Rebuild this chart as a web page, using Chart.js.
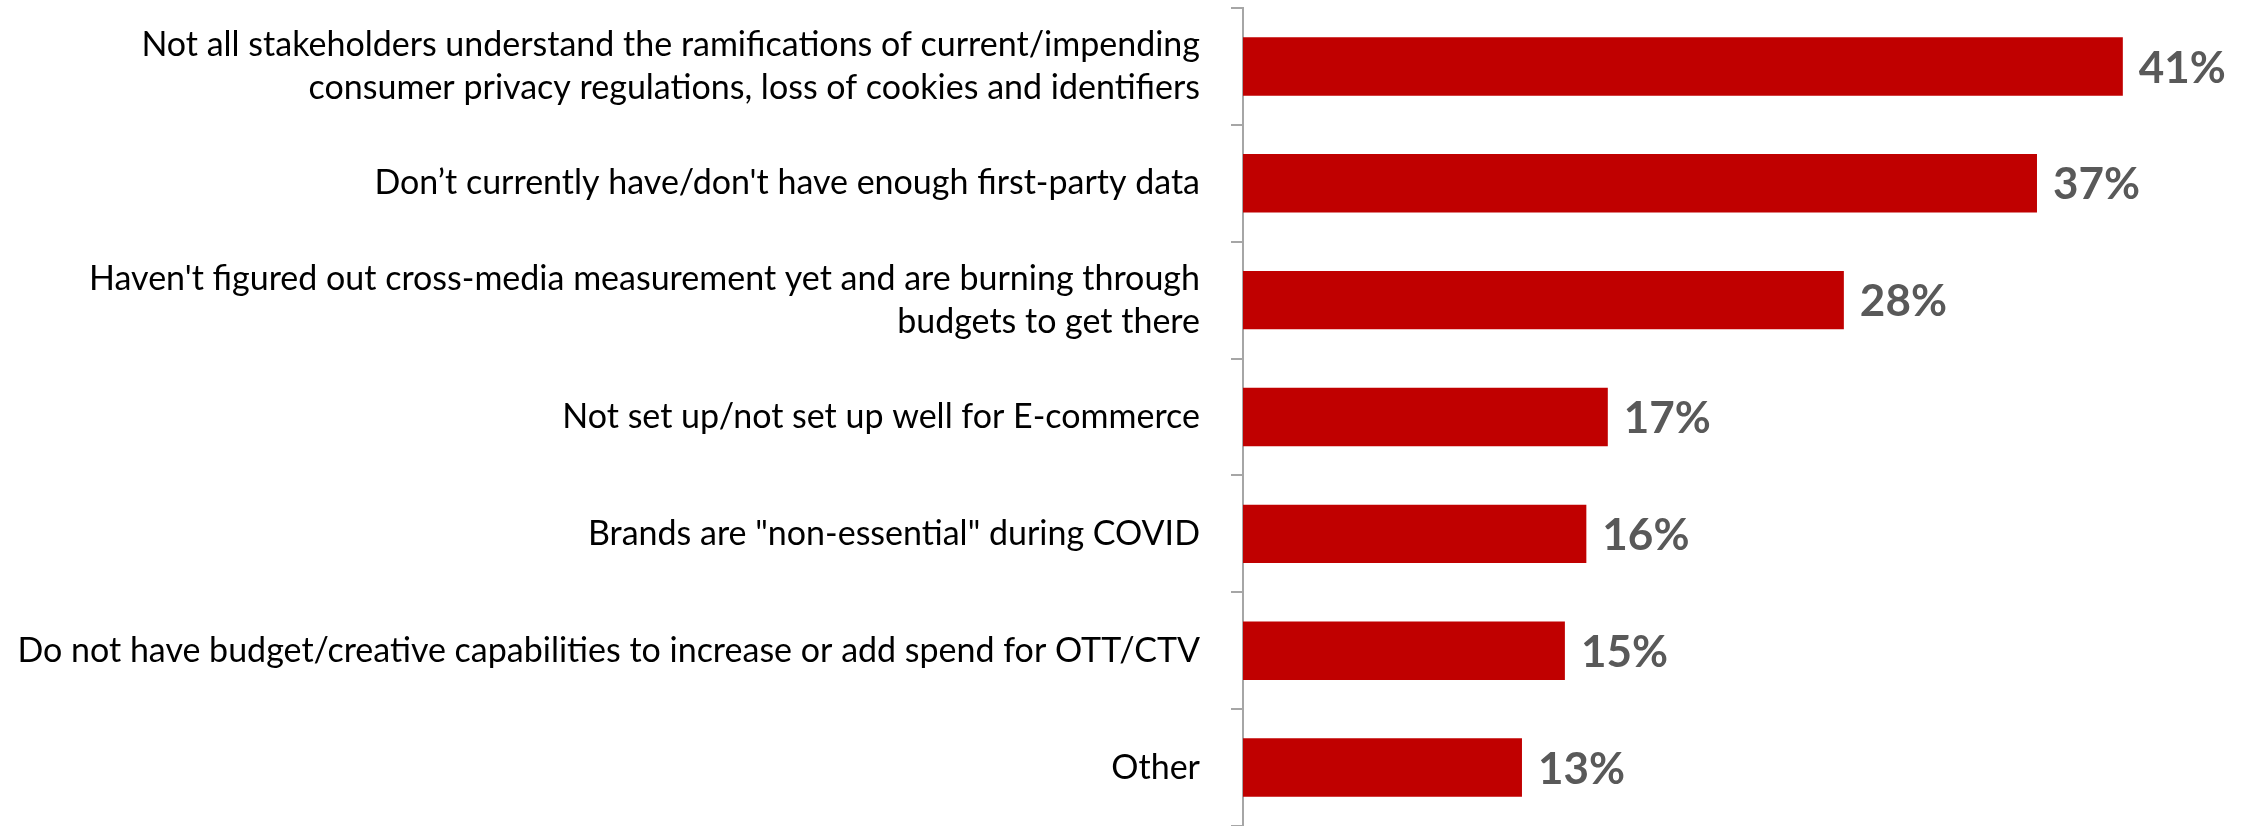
<!DOCTYPE html>
<html>
<head>
<meta charset="utf-8">
<script src="https://cdn.jsdelivr.net/npm/chart.js@4"></script>
<style>
  html, body { margin: 0; padding: 0; background: #ffffff; }
  #wrap { width: 2243px; height: 826px; position: relative; }
</style>
</head>
<body>
<div id="wrap"><canvas id="c" width="2243" height="826"></canvas></div>
<script>
const categories = [
  ["Not all stakeholders understand the ramifications of current/impending", "consumer privacy regulations, loss of cookies and identifiers"],
  "Don\u2019t currently have/don't have enough first-party data",
  ["Haven't figured out cross-media measurement yet and are burning through", "budgets to get there"],
  "Not set up/not set up well for E-commerce",
  "Brands are \"non-essential\" during COVID",
  "Do not have budget/creative capabilities to increase or add spend for OTT/CTV",
  "Other"
];
const values = [41, 37, 28, 17, 16, 15, 13];
const valueLabels = ["41%", "37%", "28%", "17%", "16%", "15%", "13%"];

const FONT = "Lato, 'Noto Sans', sans-serif";

const valueLabelPlugin = {
  id: 'valueLabels',
  afterDatasetsDraw(chart) {
    const ctx = chart.ctx;
    const meta = chart.getDatasetMeta(0);
    ctx.save();
    ctx.font = "bold 44px " + FONT;
    ctx.fillStyle = "#595959";
    ctx.textAlign = "left";
    ctx.textBaseline = "middle";
    meta.data.forEach((bar, i) => {
      ctx.fillText(valueLabels[i], bar.x + 16, bar.y + 2);
    });
    ctx.restore();
  }
};

new Chart(document.getElementById('c'), {
  type: 'bar',
  data: {
    labels: categories,
    datasets: [{
      data: values,
      backgroundColor: '#C00000',
      borderWidth: 0,
      barPercentage: 0.5,
      categoryPercentage: 1.0
    }]
  },
  options: {
    indexAxis: 'y',
    responsive: false,
    animation: false,
    events: [],
    layout: { padding: { top: 8, right: 0, bottom: 0, left: 0 } },
    plugins: { legend: { display: false }, tooltip: { enabled: false } },
    scales: {
      x: {
        display: false,
        min: 0,
        max: 46.6
      },
      y: {
        afterFit(scale) {
          scale.width = 1243;
          scale.paddingTop = 0;
          scale.paddingBottom = 0;
        },
        grid: {
          offset: true,
          drawOnChartArea: false,
          drawTicks: true,
          tickLength: 12,
          color: '#A6A6A6',
          lineWidth: 2
        },
        border: { display: true, color: '#A6A6A6', width: 2 },
        ticks: {
          color: '#000000',
          padding: 31,
          font: { family: FONT, size: 34, lineHeight: 1.27 }
        }
      }
    }
  },
  plugins: [valueLabelPlugin]
});
</script>
</body>
</html>
